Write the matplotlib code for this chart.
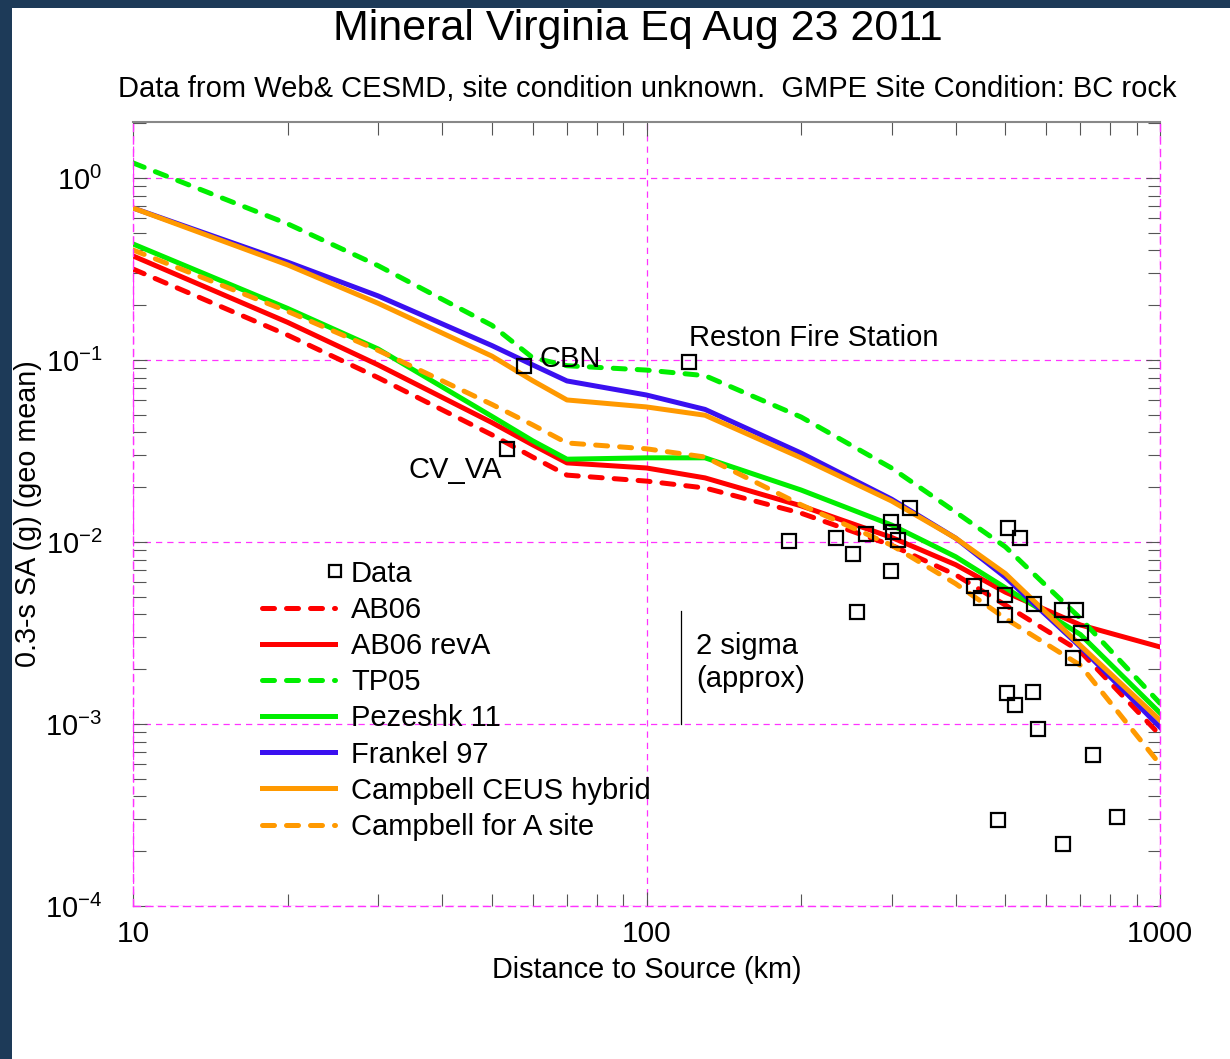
import matplotlib
matplotlib.use("Agg")
from matplotlib import pyplot as plt
from matplotlib.legend_handler import HandlerLine2D
from matplotlib.ticker import LogLocator, NullFormatter
from matplotlib.patches import Rectangle

plt.rcParams['font.family'] = ['Liberation Sans', 'DejaVu Sans']
plt.rcParams['mathtext.fontset'] = 'custom'
plt.rcParams['mathtext.rm'] = 'Liberation Sans'

# distances (km) at which the GMPE curves were read
dist = [10, 20, 30, 50, 60, 70, 100, 130, 200, 300, 400, 500, 700, 1000]

ab06 = [0.316, 0.137, 0.080, 0.0388, 0.0293, 0.0233, 0.0216, 0.0198, 0.0144, 0.0096, 0.0066, 0.0045, 0.0025, 0.00087]
ab06_reva = [0.373, 0.161, 0.094, 0.0453, 0.0342, 0.0272, 0.0255, 0.0225, 0.0158, 0.0106, 0.0075, 0.0053, 0.0035, 0.00265]
tp05 = [1.21, 0.56, 0.33, 0.155, 0.103, 0.093, 0.088, 0.082, 0.0486, 0.0255, 0.0146, 0.0094, 0.0038, 0.0013]
pezeshk11 = [0.434, 0.192, 0.115, 0.049, 0.036, 0.0285, 0.029, 0.029, 0.0193, 0.0124, 0.0083, 0.0056, 0.0031, 0.00115]
frankel97 = [0.684, 0.345, 0.225, 0.12, 0.094, 0.0767, 0.0642, 0.0535, 0.0308, 0.0172, 0.0105, 0.0064, 0.00265, 0.00096]
campbell_hybrid = [0.684, 0.333, 0.205, 0.105, 0.077, 0.0603, 0.0552, 0.0497, 0.029, 0.0168, 0.0105, 0.0067, 0.0027, 0.00105]
campbell_a = [0.402, 0.185, 0.113, 0.057, 0.044, 0.035, 0.0325, 0.0293, 0.016, 0.0096, 0.0059, 0.0038, 0.0021, 0.0006]

# recorded stations
data_dist = [57.7, 121, 53.5, 189.5, 234, 252, 257, 268, 299, 302, 309, 299, 326,
             506, 533, 434, 448, 499, 499, 568, 644, 686, 701, 677,
             504, 522, 566, 578, 741, 484, 647, 824]
data_sa = [0.0927, 0.0975, 0.0324, 0.0101, 0.0105, 0.0086, 0.00412, 0.0111, 0.0129, 0.01135, 0.0103, 0.00693, 0.0154,
           0.0119, 0.0105, 0.00573, 0.00492, 0.00512, 0.00397, 0.00456, 0.00423, 0.00423, 0.00316, 0.00231,
           0.00148, 0.00127, 0.0015, 0.00094, 0.000676, 0.000297, 0.000219, 0.000308]

# labelled stations: name, distance, SA
labels = ["CBN", "Reston Fire Station", "CV_VA"]
label_dist = [57.7, 121, 53.5]
label_sa = [0.0927, 0.0975, 0.0324]

sigma_dist = 116.7
sigma_range = [0.00418, 0.001]

red = "#ff0000"
green = "#00ee00"
blue = "#3a10f0"
orange = "#ff9900"


class RightMarker(HandlerLine2D):
    # legend square sits at the right end of the handle, as in the original
    def create_artists(self, *args, **kwargs):
        arts = super().create_artists(*args, **kwargs)
        arts[0].set_markevery([2])
        arts[0].set_markersize(8.5)
        return arts


fig = plt.figure(figsize=(12.3, 10.59), dpi=100)
fig.patch.set_facecolor("#1d3a58")
fig.patches.append(Rectangle((12 / 1230, 0), 1, 1 - 8 / 1059, transform=fig.transFigure,
                             facecolor="white", edgecolor="none", zorder=-5))

ax = fig.add_axes([133 / 1230, 153 / 1059, 1027 / 1230, 784 / 1059])
ax.set_xscale("log")
ax.set_yscale("log")
ax.set_xlim(10, 1000)
ax.set_ylim(1e-4, 2.03)

lw = 3.6
dash = dict(linestyle=(0, (2.4, 2.4)), dash_capstyle="round")
ax.plot(data_dist, data_sa, linestyle="none", marker="s", markersize=10,
        markerfacecolor="none", markeredgecolor="black", markeredgewidth=1.6, label="Data", zorder=4)
ax.plot(dist, ab06, color=red, lw=lw, label="AB06", **dash)
ax.plot(dist, ab06_reva, color=red, lw=lw, label="AB06 revA")
ax.plot(dist, tp05, color=green, lw=lw, label="TP05", **dash)
ax.plot(dist, pezeshk11, color=green, lw=lw, label="Pezeshk 11")
ax.plot(dist, frankel97, color=blue, lw=lw, label="Frankel 97")
ax.plot(dist, campbell_hybrid, color=orange, lw=lw, label="Campbell CEUS hybrid")
ax.plot(dist, campbell_a, color=orange, lw=lw, label="Campbell for A site", **dash)

offsets = [(11, 5), (0, 17), (-4, -15)]
aligns = ["left", "left", "right"]
for name, x, y, off, ha in zip(labels, label_dist, label_sa, offsets, aligns):
    ax.annotate(name, (x, y), xytext=off, textcoords="offset points",
                ha=ha, va="center", fontsize=21)

ax.plot([sigma_dist, sigma_dist], sigma_range, color="black", lw=0.9)
ax.annotate("2 sigma\n(approx)", (sigma_dist, sigma_range[0]), xytext=(11, -37),
            textcoords="offset points", ha="left", va="center", fontsize=21, linespacing=1.25)

ax.grid(True, which="major", color="#ff33ff", linestyle=(0, (5, 4)), lw=0.9)
for side in ["left", "bottom", "right"]:
    ax.spines[side].set_color("#ff33ff")
    ax.spines[side].set_linestyle((0, (5, 4)))
    ax.spines[side].set_linewidth(1.0)
ax.spines["top"].set_color("#888888")
ax.spines["top"].set_linewidth(1.5)

ax.yaxis.set_major_locator(LogLocator(base=10, numticks=10))
ax.yaxis.set_minor_locator(LogLocator(base=10, subs=range(2, 10), numticks=10))
ax.yaxis.set_minor_formatter(NullFormatter())
ax.xaxis.set_minor_formatter(NullFormatter())
ax.set_xticks([10, 100, 1000])
ax.set_xticklabels(["10", "100", "1000"])
ax.tick_params(which="both", direction="in", top=True, right=True, color="#555555", width=0.8)
ax.tick_params(which="major", length=10)
ax.tick_params(which="minor", length=9)
ax.tick_params(axis="x", which="major", labelsize=21.5, pad=10)
ax.tick_params(axis="y", which="major", labelsize=21, pad=22)

ax.set_xlabel("Distance to Source (km)", fontsize=20.8, labelpad=6)
ax.set_ylabel("0.3-s SA (g) (geo mean)", fontsize=20.7, labelpad=2)

fig.text(638 / 1230, 1 - 29 / 1059, "Mineral Virginia Eq Aug 23 2011", ha="center", va="center", fontsize=31)
fig.text(647 / 1230, 1 - 89 / 1059,
         "Data from Web& CESMD, site condition unknown.  GMPE Site Condition: BC rock",
         ha="center", va="center", fontsize=21)

ax.legend(loc="upper left", bbox_to_anchor=(0.1142, 0.4566), frameon=False, fontsize=21,
          handlelength=2.5, handletextpad=0.55, labelspacing=0.28, borderaxespad=0,
          numpoints=1, handler_map={ax.lines[0]: RightMarker()})

fig.savefig("out.png", dpi=100, facecolor=fig.get_facecolor())
